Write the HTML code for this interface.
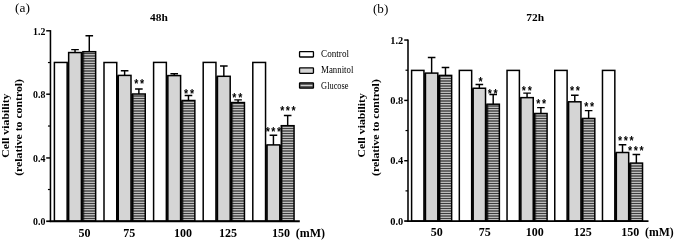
<!DOCTYPE html>
<html><head><meta charset="utf-8"><title>Cell viability</title>
<style>html,body{margin:0;padding:0;background:#fff}svg{display:block;will-change:transform}text{font-family:"Liberation Serif",serif;fill:#000}</style>
</head><body>
<svg width="675" height="241" viewBox="0 0 675 241">
<defs><pattern id="st" x="0" y="1" width="4" height="5" patternUnits="userSpaceOnUse"><rect x="0" y="0" width="4" height="5" fill="#3e3e3e"/><rect x="0" y="0.75" width="4" height="1.0" fill="#e6e6e6"/><rect x="0" y="3.25" width="4" height="1.0" fill="#e6e6e6"/></pattern><pattern id="sb" x="0" y="1" width="4" height="5" patternUnits="userSpaceOnUse"><rect x="0" y="0" width="4" height="5" fill="#3e3e3e"/><rect x="0" y="0.75" width="4" height="1.0" fill="#e6e6e6"/><rect x="0" y="3.25" width="4" height="1.0" fill="#e6e6e6"/></pattern><filter id="vb" x="-5%" y="-2%" width="110%" height="104%"><feGaussianBlur stdDeviation="0 0.45"/></filter></defs>
<rect x="0" y="0" width="675" height="241" fill="#fff"/>
<rect x="54.40" y="62.45" width="12.75" height="158.80" fill="#fff" stroke="#000" stroke-width="1.5"/>
<rect x="68.65" y="52.55" width="12.75" height="168.70" fill="#d5d5d5" stroke="#000" stroke-width="1.5"/>
<path d="M67.90 62.45V221.25" stroke="#000" stroke-width="1.0" fill="none"/>
<path d="M75.03 52.55V49.60M71.23 49.60H78.83" stroke="#000" stroke-width="1.45" fill="none"/>
<rect x="82.90" y="52.10" width="12.75" height="169.15" fill="url(#st)" filter="url(#vb)"/>
<rect x="82.90" y="51.70" width="12.75" height="169.55" fill="none" stroke="#000" stroke-width="1.5"/>
<path d="M83.95 51.70V221.25" stroke="#222" stroke-width="0.6" fill="none"/>
<path d="M82.15 52.55V221.25" stroke="#000" stroke-width="1.0" fill="none"/>
<path d="M89.28 51.70V35.80M85.48 35.80H93.08" stroke="#000" stroke-width="1.45" fill="none"/>
<rect x="104.00" y="62.50" width="12.75" height="158.75" fill="#fff" stroke="#000" stroke-width="1.5"/>
<rect x="118.25" y="75.40" width="12.75" height="145.85" fill="#d5d5d5" stroke="#000" stroke-width="1.5"/>
<path d="M117.50 75.40V221.25" stroke="#000" stroke-width="1.0" fill="none"/>
<path d="M124.62 75.40V70.80M120.83 70.80H128.43" stroke="#000" stroke-width="1.45" fill="none"/>
<rect x="132.50" y="94.40" width="12.75" height="126.85" fill="url(#st)" filter="url(#vb)"/>
<rect x="132.50" y="94.00" width="12.75" height="127.25" fill="none" stroke="#000" stroke-width="1.5"/>
<path d="M133.55 94.00V221.25" stroke="#222" stroke-width="0.6" fill="none"/>
<path d="M131.75 94.00V221.25" stroke="#000" stroke-width="1.0" fill="none"/>
<path d="M138.88 94.00V89.00M135.07 89.00H142.68" stroke="#000" stroke-width="1.45" fill="none"/>
<rect x="153.60" y="62.40" width="12.75" height="158.85" fill="#fff" stroke="#000" stroke-width="1.5"/>
<rect x="167.85" y="75.60" width="12.75" height="145.65" fill="#d5d5d5" stroke="#000" stroke-width="1.5"/>
<path d="M167.10 75.60V221.25" stroke="#000" stroke-width="1.0" fill="none"/>
<path d="M174.22 75.60V73.70M170.42 73.70H178.03" stroke="#000" stroke-width="1.45" fill="none"/>
<rect x="182.10" y="100.90" width="12.75" height="120.35" fill="url(#st)" filter="url(#vb)"/>
<rect x="182.10" y="100.50" width="12.75" height="120.75" fill="none" stroke="#000" stroke-width="1.5"/>
<path d="M183.15 100.50V221.25" stroke="#222" stroke-width="0.6" fill="none"/>
<path d="M181.35 100.50V221.25" stroke="#000" stroke-width="1.0" fill="none"/>
<path d="M188.47 100.50V95.55M184.67 95.55H192.28" stroke="#000" stroke-width="1.45" fill="none"/>
<rect x="203.20" y="62.40" width="12.75" height="158.85" fill="#fff" stroke="#000" stroke-width="1.5"/>
<rect x="217.45" y="76.30" width="12.75" height="144.95" fill="#d5d5d5" stroke="#000" stroke-width="1.5"/>
<path d="M216.70 76.30V221.25" stroke="#000" stroke-width="1.0" fill="none"/>
<path d="M223.83 76.30V66.00M220.03 66.00H227.63" stroke="#000" stroke-width="1.45" fill="none"/>
<rect x="231.70" y="102.95" width="12.75" height="118.30" fill="url(#st)" filter="url(#vb)"/>
<rect x="231.70" y="102.55" width="12.75" height="118.70" fill="none" stroke="#000" stroke-width="1.5"/>
<path d="M232.75 102.55V221.25" stroke="#222" stroke-width="0.6" fill="none"/>
<path d="M230.95 102.55V221.25" stroke="#000" stroke-width="1.0" fill="none"/>
<path d="M238.08 102.55V99.85M234.28 99.85H241.88" stroke="#000" stroke-width="1.45" fill="none"/>
<rect x="252.80" y="62.45" width="12.75" height="158.80" fill="#fff" stroke="#000" stroke-width="1.5"/>
<rect x="267.05" y="144.90" width="12.75" height="76.35" fill="#d5d5d5" stroke="#000" stroke-width="1.5"/>
<path d="M266.30 144.90V221.25" stroke="#000" stroke-width="1.0" fill="none"/>
<path d="M273.43 144.90V135.30M269.62 135.30H277.23" stroke="#000" stroke-width="1.45" fill="none"/>
<rect x="281.30" y="126.10" width="12.75" height="95.15" fill="url(#st)" filter="url(#vb)"/>
<rect x="281.30" y="125.70" width="12.75" height="95.55" fill="none" stroke="#000" stroke-width="1.5"/>
<path d="M282.35 125.70V221.25" stroke="#222" stroke-width="0.6" fill="none"/>
<path d="M280.55 144.90V221.25" stroke="#000" stroke-width="1.0" fill="none"/>
<path d="M287.68 125.70V115.40M283.88 115.40H291.48" stroke="#000" stroke-width="1.45" fill="none"/>
<path d="M50.45 30.15V222.05" stroke="#000" stroke-width="1.55" fill="none"/>
<path d="M49.7 221.25H299.8" stroke="#000" stroke-width="1.8" fill="none"/>
<path d="M46.2 221.25H50.45" stroke="#000" stroke-width="1.7"/>
<text x="33.1" y="225.4" font-size="10" font-weight="bold" text-anchor="start" textLength="12.3" lengthAdjust="spacingAndGlyphs">0.0</text>
<path d="M46.2 157.95H50.45" stroke="#000" stroke-width="1.45"/>
<text x="33.1" y="161.5" font-size="10" font-weight="bold" text-anchor="start" textLength="12.3" lengthAdjust="spacingAndGlyphs">0.4</text>
<path d="M46.2 94.20H50.45" stroke="#000" stroke-width="1.45"/>
<text x="33.1" y="97.6" font-size="10" font-weight="bold" text-anchor="start" textLength="12.3" lengthAdjust="spacingAndGlyphs">0.8</text>
<path d="M46.2 30.80H50.45" stroke="#000" stroke-width="1.45"/>
<text x="33.1" y="34.75" font-size="10" font-weight="bold" text-anchor="start" textLength="12.3" lengthAdjust="spacingAndGlyphs">1.2</text>
<path d="M47.95 189.51H50.45" stroke="#000" stroke-width="1.2"/>
<path d="M47.95 126.03H50.45" stroke="#000" stroke-width="1.2"/>
<path d="M47.95 62.54H50.45" stroke="#000" stroke-width="1.2"/>
<rect x="411.60" y="70.40" width="12.35" height="150.65" fill="#fff" stroke="#000" stroke-width="1.5"/>
<rect x="425.45" y="73.10" width="12.35" height="147.95" fill="#d5d5d5" stroke="#000" stroke-width="1.5"/>
<path d="M424.70 73.10V221.05" stroke="#000" stroke-width="1.0" fill="none"/>
<path d="M431.63 73.10V57.50M427.83 57.50H435.43" stroke="#000" stroke-width="1.45" fill="none"/>
<rect x="439.30" y="75.80" width="12.35" height="145.25" fill="url(#sb)" filter="url(#vb)"/>
<rect x="439.30" y="75.40" width="12.35" height="145.65" fill="none" stroke="#000" stroke-width="1.5"/>
<path d="M440.35 75.40V221.05" stroke="#222" stroke-width="0.6" fill="none"/>
<path d="M438.55 75.40V221.05" stroke="#000" stroke-width="1.0" fill="none"/>
<path d="M445.48 75.40V67.40M441.68 67.40H449.28" stroke="#000" stroke-width="1.45" fill="none"/>
<rect x="459.32" y="70.40" width="12.35" height="150.65" fill="#fff" stroke="#000" stroke-width="1.5"/>
<rect x="473.17" y="88.25" width="12.35" height="132.80" fill="#d5d5d5" stroke="#000" stroke-width="1.5"/>
<path d="M472.42 88.25V221.05" stroke="#000" stroke-width="1.0" fill="none"/>
<path d="M479.35 88.25V84.40M475.55 84.40H483.15" stroke="#000" stroke-width="1.45" fill="none"/>
<rect x="487.02" y="104.60" width="12.35" height="116.45" fill="url(#sb)" filter="url(#vb)"/>
<rect x="487.02" y="104.20" width="12.35" height="116.85" fill="none" stroke="#000" stroke-width="1.5"/>
<path d="M488.07 104.20V221.05" stroke="#222" stroke-width="0.6" fill="none"/>
<path d="M486.27 104.20V221.05" stroke="#000" stroke-width="1.0" fill="none"/>
<path d="M493.20 104.20V94.40M489.40 94.40H497.00" stroke="#000" stroke-width="1.45" fill="none"/>
<rect x="507.04" y="70.40" width="12.35" height="150.65" fill="#fff" stroke="#000" stroke-width="1.5"/>
<rect x="520.89" y="97.65" width="12.35" height="123.40" fill="#d5d5d5" stroke="#000" stroke-width="1.5"/>
<path d="M520.14 97.65V221.05" stroke="#000" stroke-width="1.0" fill="none"/>
<path d="M527.07 97.65V93.10M523.27 93.10H530.87" stroke="#000" stroke-width="1.45" fill="none"/>
<rect x="534.74" y="113.90" width="12.35" height="107.15" fill="url(#sb)" filter="url(#vb)"/>
<rect x="534.74" y="113.50" width="12.35" height="107.55" fill="none" stroke="#000" stroke-width="1.5"/>
<path d="M535.79 113.50V221.05" stroke="#222" stroke-width="0.6" fill="none"/>
<path d="M533.99 113.50V221.05" stroke="#000" stroke-width="1.0" fill="none"/>
<path d="M540.91 113.50V107.60M537.12 107.60H544.71" stroke="#000" stroke-width="1.45" fill="none"/>
<rect x="554.76" y="70.40" width="12.35" height="150.65" fill="#fff" stroke="#000" stroke-width="1.5"/>
<rect x="568.61" y="101.80" width="12.35" height="119.25" fill="#d5d5d5" stroke="#000" stroke-width="1.5"/>
<path d="M567.86 101.80V221.05" stroke="#000" stroke-width="1.0" fill="none"/>
<path d="M574.79 101.80V95.20M570.99 95.20H578.59" stroke="#000" stroke-width="1.45" fill="none"/>
<rect x="582.46" y="118.85" width="12.35" height="102.20" fill="url(#sb)" filter="url(#vb)"/>
<rect x="582.46" y="118.45" width="12.35" height="102.60" fill="none" stroke="#000" stroke-width="1.5"/>
<path d="M583.51 118.45V221.05" stroke="#222" stroke-width="0.6" fill="none"/>
<path d="M581.71 118.45V221.05" stroke="#000" stroke-width="1.0" fill="none"/>
<path d="M588.63 118.45V110.60M584.84 110.60H592.43" stroke="#000" stroke-width="1.45" fill="none"/>
<rect x="602.48" y="70.40" width="12.35" height="150.65" fill="#fff" stroke="#000" stroke-width="1.5"/>
<rect x="616.33" y="152.50" width="12.35" height="68.55" fill="#d5d5d5" stroke="#000" stroke-width="1.5"/>
<path d="M615.58 152.50V221.05" stroke="#000" stroke-width="1.0" fill="none"/>
<path d="M622.51 152.50V144.70M618.71 144.70H626.31" stroke="#000" stroke-width="1.45" fill="none"/>
<rect x="630.18" y="163.50" width="12.35" height="57.55" fill="url(#sb)" filter="url(#vb)"/>
<rect x="630.18" y="163.10" width="12.35" height="57.95" fill="none" stroke="#000" stroke-width="1.5"/>
<path d="M631.23 163.10V221.05" stroke="#222" stroke-width="0.6" fill="none"/>
<path d="M629.43 163.10V221.05" stroke="#000" stroke-width="1.0" fill="none"/>
<path d="M636.36 163.10V154.40M632.56 154.40H640.15" stroke="#000" stroke-width="1.45" fill="none"/>
<path d="M408.0 39.40V221.85" stroke="#000" stroke-width="1.55" fill="none"/>
<path d="M407.25 221.05H648.5" stroke="#000" stroke-width="1.8" fill="none"/>
<path d="M404.2 221.05H408.0" stroke="#000" stroke-width="1.7"/>
<text x="390.2" y="225.4" font-size="10" font-weight="bold" text-anchor="start" textLength="13.0" lengthAdjust="spacingAndGlyphs">0.0</text>
<path d="M404.2 160.72H408.0" stroke="#000" stroke-width="1.45"/>
<text x="390.2" y="164.3" font-size="10" font-weight="bold" text-anchor="start" textLength="13.0" lengthAdjust="spacingAndGlyphs">0.4</text>
<path d="M404.2 100.40H408.0" stroke="#000" stroke-width="1.45"/>
<text x="390.2" y="103.8" font-size="10" font-weight="bold" text-anchor="start" textLength="13.0" lengthAdjust="spacingAndGlyphs">0.8</text>
<path d="M404.2 40.05H408.0" stroke="#000" stroke-width="1.45"/>
<text x="390.2" y="44.1" font-size="10" font-weight="bold" text-anchor="start" textLength="13.0" lengthAdjust="spacingAndGlyphs">1.2</text>
<path d="M405.5 190.88H408.0" stroke="#000" stroke-width="1.2"/>
<path d="M405.5 130.55H408.0" stroke="#000" stroke-width="1.2"/>
<path d="M405.5 70.22H408.0" stroke="#000" stroke-width="1.2"/>
<text x="15" y="11.6" font-size="13" font-weight="normal" text-anchor="start" textLength="14.9" lengthAdjust="spacingAndGlyphs">(a)</text>
<text x="373" y="13.1" font-size="13" font-weight="normal" text-anchor="start" textLength="15.3" lengthAdjust="spacingAndGlyphs">(b)</text>
<text x="150.1" y="20.8" font-size="11" font-weight="bold" text-anchor="start" textLength="17.8" lengthAdjust="spacingAndGlyphs">48h</text>
<text x="526.3" y="20.8" font-size="11" font-weight="bold" text-anchor="start" textLength="17.8" lengthAdjust="spacingAndGlyphs">72h</text>
<text x="84.4" y="236.9" font-size="12" font-weight="bold" text-anchor="middle">50</text>
<text x="129.3" y="236.9" font-size="12" font-weight="bold" text-anchor="middle">75</text>
<text x="182.9" y="236.9" font-size="12" font-weight="bold" text-anchor="middle">100</text>
<text x="228.0" y="236.9" font-size="12" font-weight="bold" text-anchor="middle">125</text>
<text x="281.1" y="236.9" font-size="12" font-weight="bold" text-anchor="middle">150</text>
<text x="295.7" y="236.9" font-size="12" font-weight="bold" text-anchor="start" textLength="29.3" lengthAdjust="spacingAndGlyphs">(mM)</text>
<text x="436.7" y="236.3" font-size="12" font-weight="bold" text-anchor="middle">50</text>
<text x="484.7" y="236.3" font-size="12" font-weight="bold" text-anchor="middle">75</text>
<text x="534.7" y="236.3" font-size="12" font-weight="bold" text-anchor="middle">100</text>
<text x="582.7" y="236.3" font-size="12" font-weight="bold" text-anchor="middle">125</text>
<text x="630.3" y="236.3" font-size="12" font-weight="bold" text-anchor="middle">150</text>
<text x="645" y="236.3" font-size="12" font-weight="bold" text-anchor="start" textLength="28.7" lengthAdjust="spacingAndGlyphs">(mM)</text>
<text transform="translate(8.9,157.8) rotate(-90)" font-size="11.3" font-weight="bold" textLength="64.3" lengthAdjust="spacingAndGlyphs">Cell viability</text>
<text transform="translate(22.4,175.8) rotate(-90)" font-size="11.3" font-weight="bold" textLength="96.8" lengthAdjust="spacingAndGlyphs">(relative to control)</text>
<text transform="translate(365.4,157.4) rotate(-90)" font-size="11.3" font-weight="bold" textLength="64.3" lengthAdjust="spacingAndGlyphs">Cell viability</text>
<text transform="translate(378.6,176.0) rotate(-90)" font-size="11.3" font-weight="bold" textLength="96.8" lengthAdjust="spacingAndGlyphs">(relative to control)</text>
<rect x="299.55" y="51.65" width="13.9" height="5.35" rx="0.5" fill="#fff" stroke="#000" stroke-width="1.3"/>
<text x="321.1" y="57.1" font-size="10.4" font-weight="normal" text-anchor="start" textLength="27.9" lengthAdjust="spacingAndGlyphs">Control</text>
<rect x="299.55" y="67.95" width="13.9" height="5.35" rx="0.5" fill="#d5d5d5" stroke="#000" stroke-width="1.3"/>
<text x="321.1" y="73.1" font-size="10.4" font-weight="normal" text-anchor="start" textLength="32.3" lengthAdjust="spacingAndGlyphs">Mannitol</text>
<rect x="299.55" y="82.80" width="13.9" height="5.35" rx="0.5" fill="#5c5c5c" stroke="#000" stroke-width="1.3"/>
<path d="M300.6 85.45H312.4" stroke="#e4e4e4" stroke-width="0.9"/>
<text x="321.1" y="88.6" font-size="10.4" font-weight="normal" text-anchor="start" textLength="27.4" lengthAdjust="spacingAndGlyphs">Glucose</text>
<text transform="translate(134.24,87.52) scale(0.84,1)" font-size="12.6" font-weight="bold" letter-spacing="2.06" style="font-family:'Liberation Sans',sans-serif">**</text>
<text transform="translate(184.04,97.77) scale(0.84,1)" font-size="12.6" font-weight="bold" letter-spacing="2.06" style="font-family:'Liberation Sans',sans-serif">**</text>
<text transform="translate(232.29,101.77) scale(0.84,1)" font-size="12.6" font-weight="bold" letter-spacing="2.06" style="font-family:'Liberation Sans',sans-serif">**</text>
<text transform="translate(265.64,135.67) scale(0.84,1)" font-size="12.6" font-weight="bold" letter-spacing="1.91" style="font-family:'Liberation Sans',sans-serif">***</text>
<text transform="translate(280.14,114.97) scale(0.84,1)" font-size="12.6" font-weight="bold" letter-spacing="1.91" style="font-family:'Liberation Sans',sans-serif">***</text>
<text transform="translate(478.51,85.57) scale(0.84,1)" font-size="12.6" font-weight="bold" letter-spacing="2.06" style="font-family:'Liberation Sans',sans-serif">*</text>
<text transform="translate(487.74,97.97) scale(0.84,1)" font-size="12.6" font-weight="bold" letter-spacing="2.06" style="font-family:'Liberation Sans',sans-serif">**</text>
<text transform="translate(521.84,95.17) scale(0.84,1)" font-size="12.6" font-weight="bold" letter-spacing="2.06" style="font-family:'Liberation Sans',sans-serif">**</text>
<text transform="translate(536.19,108.47) scale(0.84,1)" font-size="12.6" font-weight="bold" letter-spacing="2.06" style="font-family:'Liberation Sans',sans-serif">**</text>
<text transform="translate(569.94,95.27) scale(0.84,1)" font-size="12.6" font-weight="bold" letter-spacing="2.06" style="font-family:'Liberation Sans',sans-serif">**</text>
<text transform="translate(584.19,111.17) scale(0.84,1)" font-size="12.6" font-weight="bold" letter-spacing="2.06" style="font-family:'Liberation Sans',sans-serif">**</text>
<text transform="translate(617.94,144.97) scale(0.84,1)" font-size="12.6" font-weight="bold" letter-spacing="1.91" style="font-family:'Liberation Sans',sans-serif">***</text>
<text transform="translate(628.09,155.02) scale(0.84,1)" font-size="12.6" font-weight="bold" letter-spacing="1.91" style="font-family:'Liberation Sans',sans-serif">***</text>
</svg></body></html>
